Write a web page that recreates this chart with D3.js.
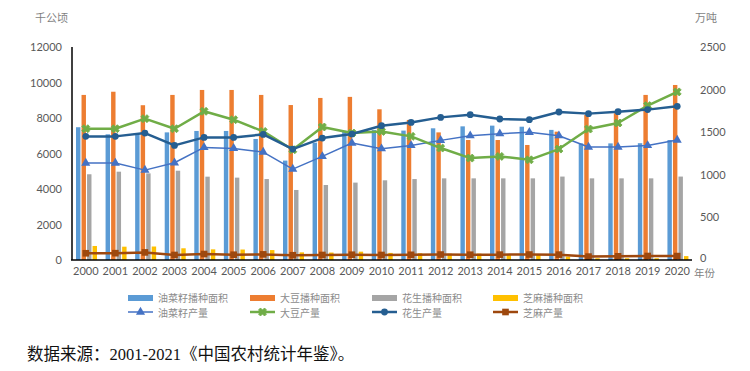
<!DOCTYPE html>
<html>
<head>
<meta charset="utf-8">
<script src="https://cdn.jsdelivr.net/npm/d3@7"></script>
<style>
body { margin: 0; background: #fff; }
svg { display: block; }
</style>
</head>
<body>
<script>
var width = 750;
var height = 371;

// data
var years = ["2000","2001","2002","2003","2004","2005","2006","2007","2008","2009","2010",
             "2011","2012","2013","2014","2015","2016","2017","2018","2019","2020"];

var rapeArea   = [7480,7080,7140,7190,7270,7270,6820,5600,6610,7280,7320,7290,7420,7530,7570,7510,7330,6570,6570,6580,6760];
var soyArea    = [9300,9480,8720,9300,9580,9580,9300,8730,9130,9190,8490,7890,7190,6760,6760,6480,7230,8170,8270,9300,9860];
var peanutArea = [4830,4975,4880,5030,4695,4640,4560,3945,4225,4360,4490,4560,4600,4600,4600,4600,4700,4600,4600,4600,4700];
var sesameArea = [790,750,760,660,600,590,560,430,420,470,400,380,360,360,280,280,190,100,100,100,220];

var rapeProd   = [1138,1138,1055,1141,1321,1310,1267,1067,1216,1373,1306,1345,1404,1459,1482,1498,1459,1326,1326,1345,1408];
var soyProd    = [1541,1541,1659,1541,1745,1647,1509,1294,1561,1490,1509,1451,1314,1196,1216,1176,1302,1537,1608,1812,1973];
var peanutProd = [1451,1451,1490,1345,1439,1439,1474,1302,1431,1478,1576,1615,1674,1706,1655,1647,1737,1718,1741,1765,1804];
var sesameProd = [79,80,89,59,70,62,66,56,59,62,59,61,64,62,63,64,63,40,43,47,46];

var leftTicks = [0,2000,4000,6000,8000,10000,12000];
var rightTicks = [0,500,1000,1500,2000,2500];

var barSeries = [
    {name: "油菜籽播种面积", values: rapeArea, color: "#5B9BD5"},
    {name: "大豆播种面积", values: soyArea, color: "#ED7D31"},
    {name: "花生播种面积", values: peanutArea, color: "#A5A5A5"},
    {name: "芝麻播种面积", values: sesameArea, color: "#FFC000"}
];
var lineSeries = [
    {name: "油菜籽产量", values: rapeProd, color: "#4472C4", width: 1.5, symbol: d3.symbolTriangle, size: 36, rotate: 0},
    {name: "大豆产量", values: soyProd, color: "#70AD47", width: 2.5, symbol: d3.symbolCross, size: 40, rotate: 45},
    {name: "花生产量", values: peanutProd, color: "#255E91", width: 2.5, symbol: d3.symbolCircle, size: 36, rotate: 0},
    {name: "芝麻产量", values: sesameProd, color: "#9E480E", width: 2.5, symbol: d3.symbolSquare, size: 44, rotate: 0}
];

var svg = d3.select("body").append("svg")
    .attr("width", width)
    .attr("height", height);

var x = d3.scaleBand().domain(years).range([71, 692]).padding(0);
var x1 = d3.scaleBand().domain(d3.range(4)).range([5, 26]).paddingInner(0.2);
var yL = d3.scaleLinear().domain([0, 12000]).range([260, 47]);
var yR = d3.scaleLinear().domain([0, 2500]).range([260, 47]);

var tickFont = "Lato, 'Open Sans', sans-serif";
var cjk = "'Noto Sans CJK SC', sans-serif";

// bars
barSeries.forEach(function (s, si) {
    svg.append("g").selectAll("rect")
        .data(s.values)
        .enter()
        .append("rect")
        .attr("x", function (d, i) { return x(years[i]) + x1(si); })
        .attr("y", function (d) { return yL(d); })
        .attr("width", x1.bandwidth())
        .attr("height", function (d) { return yL(0) - yL(d); })
        .attr("fill", s.color);
});

// lines
var cx = function (d, i) { return x(years[i]) + x.bandwidth() / 2; };
lineSeries.forEach(function (s) {
    var line = d3.line()
        .x(cx)
        .y(function (d) { return yR(d); });
    svg.append("path")
        .datum(s.values)
        .attr("d", line)
        .attr("fill", "none")
        .attr("stroke", s.color)
        .attr("stroke-width", s.width)
        .attr("stroke-linejoin", "round");
    svg.append("g").selectAll("path")
        .data(s.values)
        .enter()
        .append("path")
        .attr("d", d3.symbol().type(s.symbol).size(s.size))
        .attr("transform", function (d, i) {
            return "translate(" + cx(d, i) + "," + yR(d) + ") rotate(" + s.rotate + ")";
        })
        .attr("fill", s.color)
        .attr("stroke", s.rotate ? s.color : "none")
        .attr("stroke-width", s.rotate ? 0.8 : 0);
});

// left axis
var left = svg.append("g")
    .attr("transform", "translate(72,0)")
    .call(d3.axisLeft(yL).tickValues(leftTicks).tickSize(0).tickPadding(10).tickFormat(d3.format("d")));
left.select(".domain").attr("stroke", "#000").attr("stroke-width", 1.5).attr("d", "M0,47V260");
left.selectAll("text").attr("font-family", tickFont).attr("font-size", 11).attr("fill", "#595959");

// right axis
var right = svg.append("g")
    .attr("transform", "translate(700,0)")
    .call(d3.axisRight(yR).tickValues(rightTicks).tickSize(0).tickPadding(0).tickFormat(d3.format("d")));
right.select(".domain").remove();
right.selectAll("text").attr("font-family", tickFont).attr("font-size", 11).attr("fill", "#595959");
right.selectAll(".tick").filter(function (d) { return d === 0; }).select("text").attr("dy", "0.1em");

// x axis
var bottom = svg.append("g")
    .attr("transform", "translate(0,260)")
    .call(d3.axisBottom(x).tickSize(0).tickPadding(7));
bottom.select(".domain").attr("stroke", "#000").attr("stroke-width", 1.5).attr("d", "M71,0H692");
bottom.selectAll("text").attr("font-family", tickFont).attr("font-size", 11).attr("fill", "#595959");

// axis titles
svg.append("text").attr("x", 35).attr("y", 22).text("千公顷")
    .attr("font-family", cjk).attr("font-size", 11).attr("fill", "#7f7f7f");
svg.append("text").attr("x", 695).attr("y", 22).text("万吨")
    .attr("font-family", cjk).attr("font-size", 11).attr("fill", "#7f7f7f");
svg.append("text").attr("x", 694).attr("y", 277).text("年份")
    .attr("font-family", cjk).attr("font-size", 10.5).attr("fill", "#7f7f7f");

// legend
var legX = [128, 250, 372, 493];
var legend = svg.append("g");
barSeries.forEach(function (s, i) {
    legend.append("rect").attr("x", legX[i]).attr("y", 295).attr("width", 25).attr("height", 6).attr("fill", s.color);
    legend.append("text").attr("x", legX[i] + 30).attr("y", 301.5).text(s.name)
        .attr("font-family", cjk).attr("font-size", 10).attr("fill", "#8c8c8c");
});
lineSeries.forEach(function (s, i) {
    legend.append("line").attr("x1", legX[i]).attr("x2", legX[i] + 25).attr("y1", 312).attr("y2", 312)
        .attr("stroke", s.color).attr("stroke-width", s.width);
    legend.append("path").attr("d", d3.symbol().type(s.symbol).size(s.size))
        .attr("transform", "translate(" + (legX[i] + 12.5) + ",312) rotate(" + s.rotate + ")")
        .attr("fill", s.color).attr("stroke", s.rotate ? s.color : "none").attr("stroke-width", s.rotate ? 0.8 : 0);
    legend.append("text").attr("x", legX[i] + 30).attr("y", 316.5).text(s.name)
        .attr("font-family", cjk).attr("font-size", 10).attr("fill", "#8c8c8c");
});

// source note
svg.append("text").attr("x", 27).attr("y", 360)
    .text("数据来源：2001-2021《中国农村统计年鉴》。")
    .attr("font-family", "'Liberation Serif', 'Noto Sans CJK SC', serif")
    .attr("font-size", 16.5).attr("fill", "#111");
</script>
</body>
</html>
